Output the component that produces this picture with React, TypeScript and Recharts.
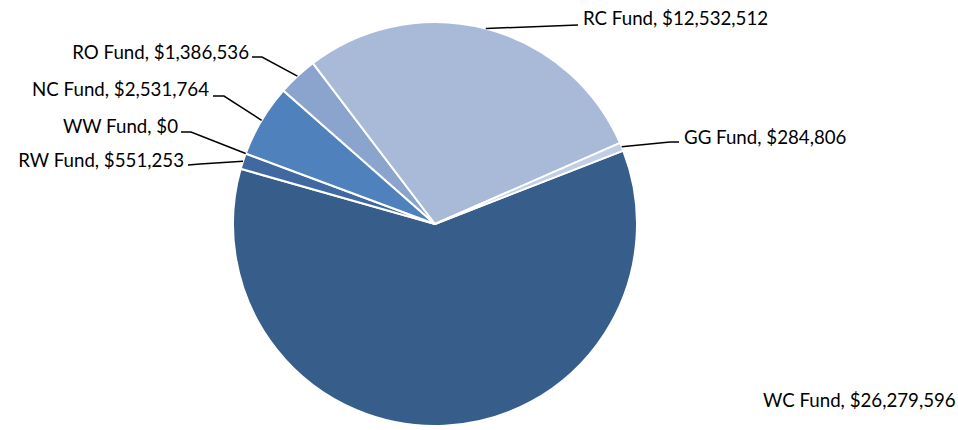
import { Pie, PieChart, Cell } from 'recharts'

const funds = ['WC Fund', 'RW Fund', 'WW Fund', 'NC Fund', 'RO Fund', 'RC Fund', 'GG Fund']
const amounts = [26279596, 551253, 0, 2531764, 1386536, 12532512, 284806]
const colors = ['#375d8a', '#4069a1', '#4472b0', '#4f81bd', '#8aa4ce', '#a9bad9', '#c2cee4']

// where each label sits: text anchor point, plus the elbow of its leader line
const labelLayout: Record<string, { x: number; y: number; anchor: 'start' | 'end'; elbow: number[][] }> = {
  'WC Fund': { x: 763, y: 400, anchor: 'start', elbow: [] },
  'RW Fund': { x: 184, y: 160, anchor: 'end', elbow: [[188, 165], [200, 164]] },
  'WW Fund': { x: 178, y: 126, anchor: 'end', elbow: [[181, 132], [191, 132]] },
  'NC Fund': { x: 209, y: 89, anchor: 'end', elbow: [[213, 96], [224, 96]] },
  'RO Fund': { x: 249, y: 52, anchor: 'end', elbow: [[252, 57], [262, 57]] },
  'RC Fund': { x: 583, y: 18, anchor: 'start', elbow: [[578, 25]] },
  'GG Fund': { x: 684, y: 137, anchor: 'start', elbow: [[679, 142], [670, 142]] },
}

const data = funds.map((name, i) => ({ name, value: amounts[i] }))

const RAD = Math.PI / 180

function renderLabel(props: any) {
  const { cx, cy, midAngle, outerRadius, name, value } = props
  const spot = labelLayout[name]
  if (!spot) return null
  const ex = cx + outerRadius * Math.cos(-midAngle * RAD)
  const ey = cy + outerRadius * Math.sin(-midAngle * RAD)
  const pts = [...spot.elbow, [ex, ey]]
  return (
    <g key={name}>
      {spot.elbow.length > 0 && (
        <polyline
          points={pts.map((p) => p.join(',')).join(' ')}
          fill="none"
          stroke="#000"
          strokeWidth={1.5}
        />
      )}
      <text
        x={spot.x}
        y={spot.y}
        textAnchor={spot.anchor}
        dominantBaseline="central"
        fontSize={18.7}
        fill="#000"
        fontFamily="Lato, 'Noto Sans', sans-serif"
      >
        {`${name}, $${value.toLocaleString('en-US')}`}
      </text>
    </g>
  )
}

export default function App() {
  return (
    <div style={{ width: 958, height: 430, background: '#fff' }}>
      <style>{`body { margin: 0; }`}</style>
      <PieChart width={958} height={430} margin={{ top: 0, right: 0, bottom: 0, left: 0 }}>
        <Pie
          data={data}
          dataKey="value"
          nameKey="name"
          cx={435}
          cy={224}
          outerRadius={202}
          startAngle={21.3}
          endAngle={21.3 - 360}
          stroke="#fff"
          strokeWidth={2}
          label={renderLabel}
          labelLine={false}
          isAnimationActive={false}
        >
          {data.map((d, i) => (
            <Cell key={d.name} fill={colors[i]} />
          ))}
        </Pie>
      </PieChart>
    </div>
  )
}
